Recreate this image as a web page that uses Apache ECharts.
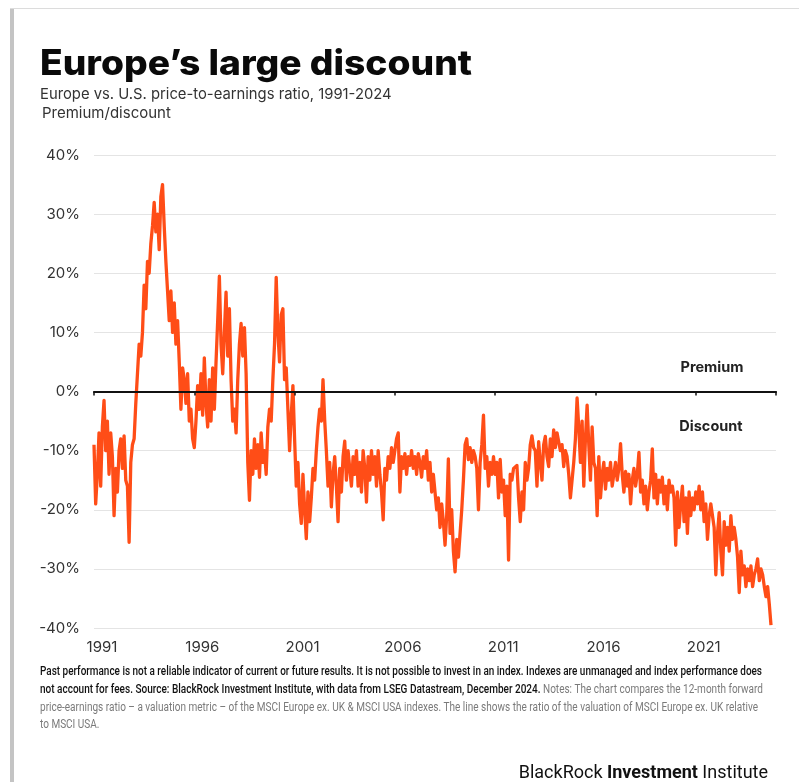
<!DOCTYPE html>
<html><head><meta charset="utf-8">
<script src="https://cdn.jsdelivr.net/npm/echarts@6/dist/echarts.min.js"></script>
<style>html,body{margin:0;padding:0;background:#fff}#c{width:799px;height:782px}</style>
</head><body><div id="c"></div>
<script>
// ---- Data (monthly readings of Europe vs U.S. forward P/E premium/discount, %) ----
const startYear = 1991;
const xTickLabels = ['1991','1996','2001','2006','2011','2016','2021'];
const yTickLabels = ['-40%','-30%','-20%','-10%','0%','10%','20%','30%','40%'];
const v1991 = [-9, -19, -14, -7, -16, -6, -1.5, -10, -5, -14, -7, -11];
const v1992 = [-21, -13, -17, -10, -8, -13, -7.5, -15, -16, -25.5, -12, -9];
const v1993 = [-8, -2, 3, 8, 6, 10, 18, 14, 22, 20, 25, 28];
const v1994 = [32, 27, 30, 24, 33, 35, 28, 22, 17, 12, 17, 10];
const v1995 = [15, 8, 12, 5, -3, 4, 2, -2, 3, -5, -3, -8];
const v1996 = [-9.5, -5, 1, -3, 3, -4, 5.7, -2, -6, 2, -5, 4];
const v1997 = [-3, 5, 12, 19.5, 8, 3, 10, 16.8, 6, 14, 2, -5];
const v1998 = [-3, -7, 2, 8, 11.5, 6, 10.8, 3, -12, -18.4, -10, -14];
const v1999 = [-8, -13, -9, -14.5, -7, -12, -10, -14, -6, -3, -5, 2];
const v2000 = [8, 19.3, 10, 5, 13, 14, 2, 4, -3, -10, -4, 1];
const v2001 = [-8, -16, -12, -19, -22.3, -14, -20, -24.9, -17, -22, -18, -13];
const v2002 = [-15, -10, -6, -3, -5, 2, -4.8, -10, -16, -12, -19.5, -14];
const v2003 = [-11, -16, -22, -13, -17, -11, -8.4, -15, -10, -13, -16, -11];
const v2004 = [-14, -10, -16, -12, -17, -10, -13, -18.7, -11, -15, -10, -14];
const v2005 = [-11, -16, -10, -14, -17, -21.7, -13, -15, -11, -13, -9.5, -12];
const v2006 = [-10, -8, -7, -17, -11, -13, -10.5, -14, -11, -12.5, -10, -13];
const v2007 = [-11, -14, -10.5, -12, -14.5, -11, -13, -10, -15, -12, -17, -14];
const v2008 = [-17, -20, -18, -23, -19, -22, -26, -21, -11.4, -24, -20, -27];
const v2009 = [-30.5, -25, -28, -24, -20, -15, -9, -8, -11.5, -9.5, -12, -10];
const v2010 = [-11, -13, -20, -12, -9, -4, -13, -11, -16, -12, -14, -11];
const v2011 = [-14, -12, -18, -11.5, -17, -15, -21, -16, -28.5, -14, -15, -13];
const v2012 = [-13, -12.5, -18, -22, -17, -20, -12, -15, -13, -9, -7.5, -9.5];
const v2013 = [-10, -16, -8.5, -12, -15, -9, -7.6, -11, -12.7, -8, -11, -6.5];
const v2014 = [-9.5, -7, -8.5, -10, -9, -12.7, -10, -11, -14, -18, -15, -12];
const v2015 = [-8, -1.1, -6, -12, -5, -16, -8, -2.3, -9, -15, -6, -12];
const v2016 = [-13, -21, -11, -18, -14, -12, -16.5, -13, -15, -12, -16, -14];
const v2017 = [-12, -15, -13, -8.8, -14, -17, -13.5, -16, -14, -19, -15, -13];
const v2018 = [-16, -14, -10.3, -17, -15, -19, -16, -20, -17, -15, -9.7, -18];
const v2019 = [-14, -19, -15, -17, -14.5, -19, -16, -20, -15, -17, -16, -18];
const v2020 = [-26, -17, -23, -19, -16, -22, -18, -24, -17, -21, -18, -20];
const v2021 = [-17, -19, -16, -20, -17, -22, -19, -25, -21, -19, -21, -23];
const v2022 = [-31, -24, -20.5, -27, -31, -22, -26, -23, -27, -21, -25, -23];
const v2023 = [-25, -28, -34, -27, -31, -29.5, -33, -30, -32, -29.5, -33, -31];
const v2024 = [-30, -28.3, -32, -30, -31, -33, -34.7, -33, -36, -39.5];

const yearly = [v1991,v1992,v1993,v1994,v1995,v1996,v1997,v1998,v1999,v2000,v2001,v2002,v2003,v2004,v2005,v2006,v2007,v2008,v2009,v2010,v2011,v2012,v2013,v2014,v2015,v2016,v2017,v2018,v2019,v2020,v2021,v2022,v2023,v2024];
const seriesData = [];
yearly.forEach((arr, yi) => arr.forEach((v, m) => seriesData.push([yi + m / 12, v])));

// ---- text ----
const titleText = 'Europe\u2019s large discount';
const subText = 'Europe vs. U.S. price-to-earnings ratio, 1991-2024';
const unitText = 'Premium/discount';
const foot1 = 'Past performance is not a reliable indicator of current or future results. It is not possible to invest in an index. Indexes are unmanaged and index performance does';
const foot2b = 'not account for fees. Source: BlackRock Investment Institute, with data from LSEG Datastream, December 2024.';
const foot2g = ' Notes: The chart compares the 12-month forward';
const foot3 = 'price-earnings ratio \u2013 a valuation metric \u2013 of the MSCI Europe ex. UK & MSCI USA indexes. The line shows the ratio of the valuation of MSCI Europe ex. UK relative';
const foot4 = 'to MSCI USA.';

const sans = 'Inter, "Open Sans", Roboto, sans-serif';
const fn = 'Roboto, "Liberation Sans", sans-serif';
const titleFont = '800 35px ' + sans;
const footB = '500 12px ' + fn;
const footG = '12px ' + fn;

// measure to fit the reference's condensed widths
const ctx = document.createElement('canvas').getContext('2d');
function w(txt, font) { ctx.font = font; return ctx.measureText(txt).width; }
const titleScale = 432 / w(titleText, titleFont);
const s1 = 722 / w(foot1, footB);
const s2 = 723 / (w(foot2b, footB) + w(foot2g, footG));
const s3 = 718 / w(foot3, footG);

const chart = echarts.init(document.getElementById('c'), null, {renderer: 'canvas'});

chart.setOption({
  backgroundColor: '#fff',
  animation: false,
  grid: {left: 94, right: 23, top: 155, bottom: 154},
  xAxis: [{
    type: 'value', min: 0, max: 34, interval: 5,
    axisLine: {show: false, onZero: false}, axisTick: {show: false}, splitLine: {show: false},
    axisLabel: {show: true, showMaxLabel: false, margin: 12, fontSize: 15, color: '#333', fontFamily: sans,
      padding: [0, 0, 0, 16],
      formatter: v => xTickLabels[Math.round(v / 5)] || ''}
  }, {
    type: 'value', min: 0, max: 34, interval: 5, position: 'bottom', z: 5,
    axisLine: {show: true, onZero: true, lineStyle: {color: '#111', width: 2}},
    axisTick: {show: true, length: 4, lineStyle: {color: '#111', width: 1.5}},
    axisLabel: {show: false}, splitLine: {show: false}
  }],
  yAxis: {
    type: 'value', min: -40, max: 40, interval: 10,
    axisLine: {show: false}, axisTick: {show: false},
    splitLine: {lineStyle: {color: '#e4e4e4', width: 1}},
    axisLabel: {margin: 14, fontSize: 15, color: '#333', fontFamily: sans,
      formatter: v => yTickLabels[Math.round((v + 40) / 10)]}
  },
  series: [{
    type: 'line', xAxisIndex: 0, data: seriesData, showSymbol: false, z: 3,
    lineStyle: {color: '#ff4d17', width: 3.3, join: 'round'}, itemStyle: {color: '#ff4d17'}
  }],
  graphic: [
    {type: 'rect', left: 10, top: 8, shape: {width: 4, height: 774}, style: {fill: '#c4c4c4'}, silent: true},
    {type: 'rect', left: 10, top: 8, shape: {width: 789, height: 1}, style: {fill: '#dcdcdc'}, silent: true},
    {type: 'text', x: 40, y: 64, scaleX: titleScale, style: {text: titleText, font: titleFont, fill: '#0a0a0a', textVerticalAlign: 'middle'}},
    {type: 'text', x: 40, y: 95, style: {text: subText, font: '14.8px ' + sans, fill: '#333', textVerticalAlign: 'middle'}},
    {type: 'text', x: 42, y: 113, style: {text: unitText, font: '15px ' + sans, fill: '#333', textVerticalAlign: 'middle'}},
    {type: 'text', x: 712, y: 368, style: {text: 'Premium', font: 'bold 14.5px ' + sans, fill: '#222', textAlign: 'center', textVerticalAlign: 'middle'}},
    {type: 'text', x: 711, y: 427, style: {text: 'Discount', font: 'bold 14.5px ' + sans, fill: '#222', textAlign: 'center', textVerticalAlign: 'middle'}},
    {type: 'text', x: 40, y: 672, scaleX: s1, style: {
      text: '{b|' + foot1 + '}', textVerticalAlign: 'middle',
      rich: {b: {font: footB, fill: '#111'}}}},
    {type: 'text', x: 40, y: 690, scaleX: s2, style: {
      text: '{b|' + foot2b + '}{g|' + foot2g + '}', textVerticalAlign: 'middle',
      rich: {b: {font: footB, fill: '#111'}, g: {font: footG, fill: '#7a7a7a'}}}},
    {type: 'text', x: 40, y: 708, scaleX: s3, style: {
      text: '{g|' + foot3 + '}', textVerticalAlign: 'middle',
      rich: {g: {font: footG, fill: '#7a7a7a'}}}},
    {type: 'text', x: 40, y: 725, scaleX: s3, style: {
      text: '{g|' + foot4 + '}', textVerticalAlign: 'middle',
      rich: {g: {font: footG, fill: '#7a7a7a'}}}},
    {type: 'text', x: 768, y: 773, style: {
      text: '{r|BlackRock }{b|Investment}{r| Institute}', textAlign: 'right', textVerticalAlign: 'middle',
      rich: {r: {font: '18px Roboto, sans-serif', fill: '#111'}, b: {font: 'bold 18px Roboto, sans-serif', fill: '#111'}}}}
  ]
});
</script>
</body></html>
